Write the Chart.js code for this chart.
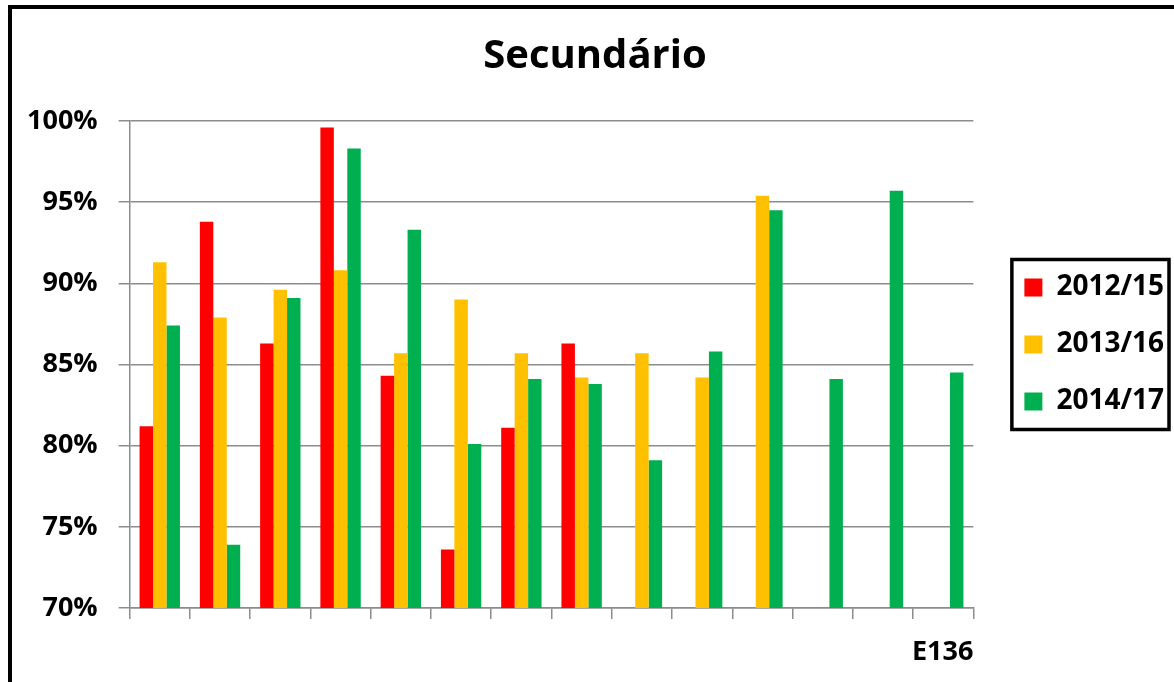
<!DOCTYPE html>
<html><head><meta charset="utf-8">
<script src="https://cdn.jsdelivr.net/npm/chart.js@4.4.1/dist/chart.umd.min.js"></script>
<style>
html,body{margin:0;padding:0;background:#fff;overflow:hidden;}
#frame{position:absolute;left:8px;top:5px;width:2000px;height:2000px;border-top:4px solid #000;border-left:4px solid #000;}
#wrap{position:absolute;left:0;top:0;width:1174px;height:682px;}
</style></head><body>
<div id="frame"></div>
<div id="wrap"><canvas id="c"></canvas></div>
<script>
const chartTitle = 'Secundário';
const xAxisTitle = 'E136';
const categories = ['', '', '', '', '', '', '', '', '', '', '', '', '', ''];
const seriesLabels = ['2012/15', '2013/16', '2014/17'];
const values2012 = [81.2, 93.8, 86.3, 99.6, 84.3, 73.6, 81.1, 86.3, null, null, null, null, null, null];
const values2013 = [91.3, 87.9, 89.6, 90.8, 85.7, 89.0, 85.7, 84.2, 85.7, 84.2, 95.4, null, null, null];
const values2014 = [87.4, 73.9, 89.1, 98.3, 93.3, 80.1, 84.1, 83.8, 79.1, 85.8, 94.5, 84.1, 95.7, 84.5];
const yMin = 70, yMax = 100, yStep = 5;
const seriesColors = ['#FF0000', '#FFC000', '#00B050'];

const FONT = 'Open Sans';
const gridGray = '#8c8c8c';

const layoutTweaks = {
  id: 'layoutTweaks',
  afterLayout(chart) {
    const lg = chart.legend;
    if (lg) {
      const dx = 22;
      lg.left += dx; lg.right += dx;
      lg.top = 3.5; lg.bottom = chart.height + 3.5; lg.height = chart.height;
    }
    const tt = chart.titleBlock;
    if (tt) { tt.left += 16; tt.right += 16; }
  },
  afterDraw(chart) {
    const lg = chart.legend; const hb = lg && lg.legendHitBoxes;
    if (!hb || !hb.length) return;
    const ctx = chart.ctx;
    const l = Math.min(...hb.map(h => h.left)) - 12.5;
    const r = Math.max(...hb.map(h => h.left + h.width)) + 5;
    const t = hb[0].top - 14;
    const last = hb[hb.length - 1];
    const b = last.top + last.height + 14;
    ctx.save();
    ctx.lineWidth = 3.5; ctx.strokeStyle = '#000';
    ctx.strokeRect(l, t, r - l, b - t);
    ctx.restore();
  }
};

const datasets = [values2012, values2013, values2014].map((vals, i) => ({
  label: seriesLabels[i],
  data: vals,
  backgroundColor: seriesColors[i],
  borderWidth: 0,
  categoryPercentage: 0.67,
  barPercentage: 1.0
}));

new Chart(document.getElementById('c'), {
  type: 'bar',
  data: { labels: categories, datasets },
  options: {
    responsive: true,
    maintainAspectRatio: false,
    animation: false,
    layout: { padding: { left: 6, right: 22, top: 0, bottom: 6 } },
    plugins: {
      title: {
        display: true, text: chartTitle, color: '#000',
        font: { family: FONT, size: 40, weight: 'bold', lineHeight: 1 },
        padding: { top: 37, bottom: 44 }
      },
      legend: {
        position: 'right',
        align: 'center',
        labels: {
          color: '#000',
          font: { family: FONT, size: 28, weight: 'bold', lineHeight: 1 },
          boxWidth: 18, boxHeight: 18, padding: 29
        }
      },
      tooltip: { enabled: false }
    },
    scales: {
      x: {
        ticks: { display: false },
        grid: { drawOnChartArea: false, drawTicks: true, tickLength: 11, color: gridGray, lineWidth: 1.5, offset: true },
        border: { color: gridGray, width: 1.5 },
        title: {
          display: true, text: xAxisTitle, align: 'end', color: '#000',
          font: { family: FONT, size: 27, weight: 'bold', lineHeight: 1 },
          padding: { top: 20, bottom: 10 }
        }
      },
      y: {
        min: yMin, max: yMax,
        ticks: {
          stepSize: yStep, color: '#000', padding: 21,
          font: { family: FONT, size: 27, weight: 'bold' },
          callback: v => v + '%'
        },
        grid: { color: gridGray, lineWidth: 1.5, tickLength: 11 },
        border: { color: gridGray, width: 1.5 }
      }
    }
  },
  plugins: [layoutTweaks]
});
</script>
</body></html>
